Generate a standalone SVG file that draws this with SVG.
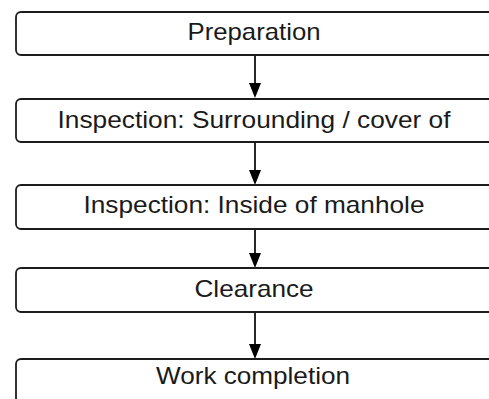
<svg xmlns="http://www.w3.org/2000/svg" width="489" height="399" viewBox="0 0 489 399">
<defs>
<style>
.box{fill:#fff;stroke:#1c1c1c;stroke-width:1.8}
.lbl{font-family:"Liberation Sans",Arial,sans-serif;font-size:24px;fill:#1a1a1a;text-anchor:middle}
.conn{stroke:#111;stroke-width:1.8;fill:none}
</style>
<marker id="arr" markerWidth="12" markerHeight="15" refX="6" refY="15" orient="auto-start-reverse" markerUnits="userSpaceOnUse" viewBox="0 0 12 15">
<path d="M0,0 L12,0 L6,15 Z" fill="#000"/>
</marker>
</defs>
<rect width="489" height="399" fill="#fff"/>
<g id="connectors">
<line class="conn" x1="255" y1="55" x2="255" y2="84"/>
<path d="M249,83 L261,83 L255,98 Z" fill="#000"/>
<line class="conn" x1="255" y1="142" x2="255" y2="171"/>
<path d="M249,170 L261,170 L255,185 Z" fill="#000"/>
<line class="conn" x1="255" y1="229" x2="255" y2="254"/>
<path d="M249,253 L261,253 L255,268 Z" fill="#000"/>
<line class="conn" x1="255" y1="312" x2="255" y2="345"/>
<path d="M249,344 L261,344 L255,359 Z" fill="#000"/>
</g>
<g id="n1"><rect class="box" x="16" y="12" width="500" height="43" rx="5"/><text class="lbl" x="254" y="39.5" textLength="133" lengthAdjust="spacingAndGlyphs">Preparation</text></g>
<g id="n2"><rect class="box" x="16" y="99" width="500" height="43" rx="5"/><text class="lbl" x="254" y="127.5" textLength="393" lengthAdjust="spacingAndGlyphs">Inspection: Surrounding / cover of</text></g>
<g id="n3"><rect class="box" x="16" y="185" width="500" height="44" rx="5"/><text class="lbl" x="254" y="213" textLength="341" lengthAdjust="spacingAndGlyphs">Inspection: Inside of manhole</text></g>
<g id="n4"><rect class="box" x="16" y="268" width="500" height="44" rx="5"/><text class="lbl" x="254" y="297" textLength="119" lengthAdjust="spacingAndGlyphs">Clearance</text></g>
<g id="n5"><rect class="box" x="16" y="359" width="500" height="44" rx="5"/><text class="lbl" x="253" y="383.5" textLength="194" lengthAdjust="spacingAndGlyphs">Work completion</text></g>
</svg>
